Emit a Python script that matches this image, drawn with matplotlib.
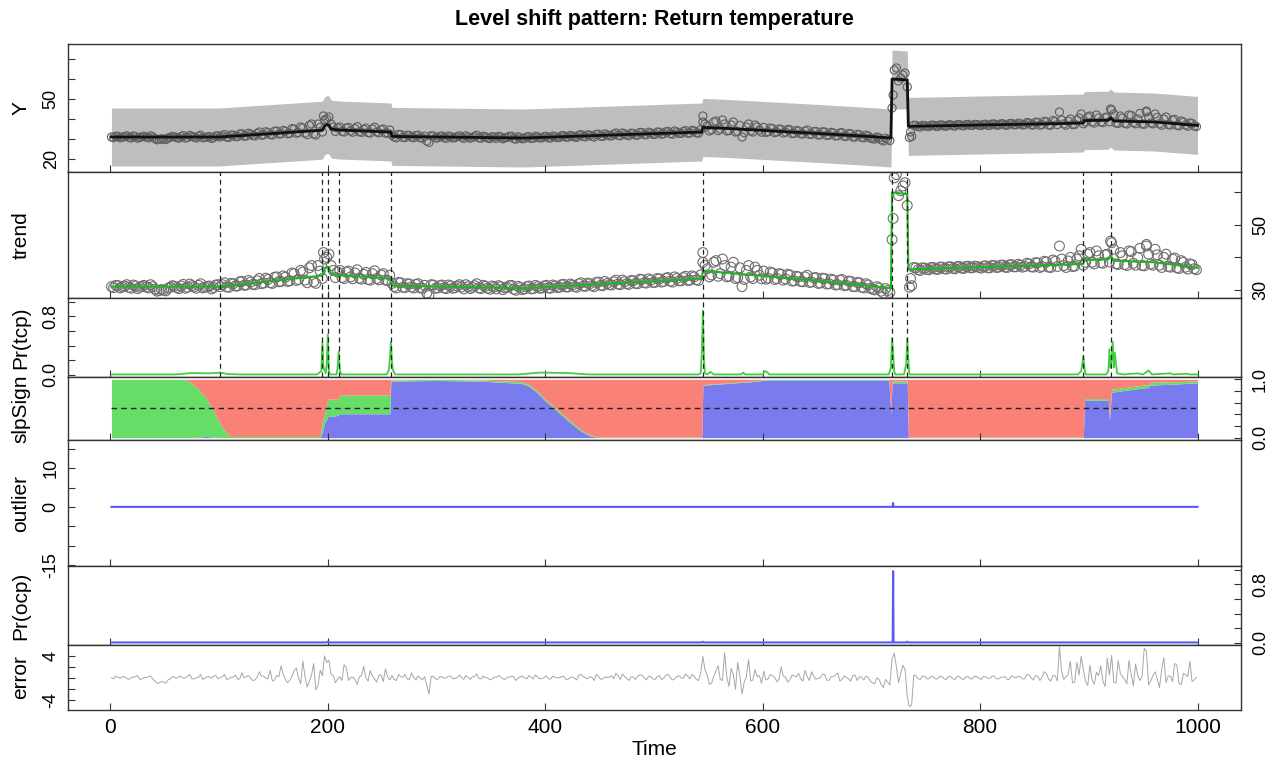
import numpy as np
import matplotlib
matplotlib.use("Agg")
import matplotlib.pyplot as plt

plt.rcParams['font.family'] = ['Liberation Sans', 'DejaVu Sans']

# ---------------- data ----------------
title = "Level shift pattern: Return temperature"
x_ticks = [0, 200, 400, 600, 800, 1000]

# fitted trend (knots)
trend_t = [1, 100, 195, 197, 199, 201, 203, 210, 258, 259, 380, 544, 545, 570, 650, 700,
           718, 719, 733, 734, 800, 880, 895, 896, 918, 920, 923, 960, 1000]
trend_v = [31.0, 31.0, 34.4, 36.5, 37.2, 37.0, 35.0, 34.5, 33.5, 31.3, 30.5, 33.5, 35.8, 35.2,
           32.8, 31.2, 30.5, 60.0, 59.5, 36.3, 37.0, 37.8, 38.0, 39.2, 39.4, 40.6, 39.0, 38.5, 36.8]
band_hi = [45.5, 45.5, 48.9, 51.0, 51.7, 51.5, 49.5, 49.0, 48.0, 45.8, 45.0, 48.0, 50.3, 49.7,
           47.3, 45.7, 45.0, 74.5, 74.0, 50.8, 51.5, 52.3, 52.5, 53.7, 53.9, 55.1, 53.5, 53.0, 51.3]
band_lo = [16.5, 16.5, 19.9, 22.0, 22.7, 22.5, 20.5, 20.0, 19.0, 16.8, 16.0, 19.0, 21.3, 20.7,
           18.3, 16.7, 16.0, 45.0, 45.0, 21.8, 22.5, 23.3, 23.5, 24.7, 24.9, 26.1, 24.5, 24.0, 22.3]

# observations at t = 1, 5, 9, ..., 997
obs_t = np.arange(1, 1001, 4)
obs_y = [
    31.0, 31.4, 30.6, 31.2, 30.8, 31.5, 30.4, 31.1, 30.9, 31.6, 30.2, 29.8, 29.9, 30.5, 31.3,
    30.7, 31.2, 30.5, 31.8, 30.9, 31.4, 30.6, 31.0, 30.3, 31.5,
    31.0, 32.2, 30.8, 31.9, 31.2, 32.6, 31.5, 32.4, 31.6, 33.5, 32.1, 33.2, 32.0, 34.0, 32.6,
    33.9, 32.8, 35.0, 33.2, 35.5, 32.2, 37.5, 32.0, 35.8, 39.5,
    41.0, 36.0, 35.5, 33.8, 35.5, 34.0, 35.2, 33.6, 34.8, 33.2, 35.0, 33.5, 34.6, 33.0, 34.5,
    31.0, 32.3, 30.8, 31.9, 30.9, 31.7, 30.6, 31.4, 28.3, 31.5,
    30.6, 31.5, 30.4, 31.2, 30.7, 31.6, 30.3, 31.0, 30.8, 31.9, 30.4, 31.1, 30.2, 30.9, 31.3,
    30.1, 30.8, 31.4, 29.9, 30.7, 30.3, 31.2, 30.4, 31.0, 30.6,
    31.4, 30.5, 31.2, 30.8, 31.7, 30.9, 31.5, 30.8, 32.2, 31.1, 31.9, 31.0, 32.4, 31.3, 32.0,
    31.5, 33.0, 31.6, 32.5, 31.7, 32.8, 31.9, 33.2, 32.1, 33.0,
    32.3, 33.4, 32.6, 33.8, 32.4, 33.5, 32.8, 34.2, 33.0, 34.0, 32.9, 38.5, 36.5, 34.6, 39.0,
    35.0, 37.5, 34.2, 38.5, 33.8, 31.0, 36.0, 34.0, 37.0, 34.5,
    35.8, 33.6, 35.2, 33.5, 34.8, 33.4, 34.6, 32.8, 34.0, 32.5, 34.5, 32.4, 33.8, 32.1, 33.5,
    31.9, 33.0, 31.6, 33.2, 31.4, 32.6, 31.0, 32.2, 30.6, 31.5,
    30.2, 31.0, 29.6, 30.4, 29.2, 64.5, 59.0, 62.0, 56.0, 31.3, 36.8, 36.0, 36.7, 36.2, 36.9,
    36.3, 37.0, 36.4, 37.1, 36.5, 37.2, 36.6, 37.3, 36.8, 37.2,
    36.7, 37.4, 36.8, 37.5, 37.0, 37.6, 36.9, 37.8, 37.1, 37.6, 37.2, 38.0, 37.0, 38.3, 37.2,
    38.6, 36.9, 38.8, 43.5, 37.5, 38.9, 37.2, 39.5, 42.5, 38.5,
    41.5, 38.0, 40.5, 38.2, 41.0, 44.5, 38.0, 41.5, 37.8, 42.0, 38.2, 40.0, 37.5, 43.5, 38.0,
    42.5, 37.6, 40.0, 37.2, 39.5, 36.8, 39.0, 37.0, 38.0, 36.5,
]
# observations at t = 3, 7, 11, ..., 999
obs_t2 = np.arange(3, 1001, 4)
obs_y2 = [
    30.7, 31.3, 30.9, 31.6, 30.5, 31.2, 30.8, 31.4, 30.6, 31.0, 29.6, 30.1, 29.7, 30.8, 31.1,
    30.4, 31.7, 30.8, 31.3, 30.5, 31.9, 30.8, 31.2, 30.7, 31.6,
    31.6, 30.9, 32.0, 31.2, 32.5, 31.4, 32.9, 31.7, 32.8, 31.9, 33.6, 32.2, 33.9, 32.5, 34.3,
    32.6, 35.2, 32.9, 36.0, 33.0, 36.8, 32.5, 37.5, 33.5, 40.0,
    37.5, 33.8, 36.0, 33.5, 35.8, 33.4, 36.2, 33.3, 35.4, 33.0, 35.9, 33.1, 35.0, 32.9, 32.0,
    30.6, 32.2, 30.7, 31.8, 30.6, 31.9, 30.5, 29.0, 31.6, 30.5,
    31.3, 30.6, 31.5, 30.5, 31.2, 30.9, 31.6, 30.4, 31.3, 30.6, 31.4, 30.5, 31.2, 30.3, 31.0,
    30.6, 31.3, 30.2, 31.1, 30.1, 31.0, 30.3, 31.4, 30.5, 31.2,
    30.6, 31.5, 30.7, 31.6, 30.9, 31.8, 31.0, 31.9, 31.2, 32.1, 31.3, 32.3, 31.4, 32.6, 31.6,
    32.5, 31.8, 33.0, 31.9, 32.9, 32.0, 33.3, 32.2, 33.4, 32.3,
    33.5, 32.4, 33.6, 32.7, 34.0, 32.8, 33.8, 32.9, 34.3, 33.1, 34.6, 37.5, 34.0, 38.5, 34.2,
    39.5, 34.0, 37.0, 33.5, 36.8, 33.2, 37.5, 33.5, 36.0, 33.4,
    33.3, 35.5, 33.2, 35.0, 33.0, 34.8, 32.7, 34.2, 32.6, 34.0, 32.3, 33.7, 32.0, 33.6, 31.8,
    33.3, 31.5, 33.0, 31.3, 32.7, 31.0, 32.3, 30.8, 31.9, 30.5,
    30.0, 30.6, 29.0, 29.8, 45.5, 65.5, 60.5, 63.0, 30.8, 36.9, 36.2, 36.8, 36.3, 36.9, 36.4,
    37.0, 36.5, 37.1, 36.6, 37.2, 36.7, 37.2, 36.8, 37.3, 36.9,
    37.3, 36.8, 37.5, 36.9, 37.6, 37.0, 37.7, 37.1, 37.9, 37.0, 38.2, 37.1, 38.4, 36.9, 38.8,
    37.0, 39.2, 37.2, 39.5, 36.9, 40.0, 37.3, 40.5, 37.6, 41.0,
    38.5, 42.0, 38.4, 40.8, 38.6, 42.5, 37.8, 40.5, 37.5, 41.8, 37.6, 42.8, 37.4, 41.0, 37.6,
    40.8, 36.9, 41.0, 37.0, 39.8, 36.6, 38.5, 36.4, 37.8, 36.2,
]
extra_t = [196, 545, 720, 736, 920, 953]
extra_y = [41.5, 41.5, 52.0, 33.5, 45.0, 44.0]

# model residuals at obs_t and obs_t2
error_v = [
    0.0, 0.3, -0.1, 0.2, -0.3, 0.1, 0.4, -0.2, 0.0, 0.3, -0.6, -0.9, -0.8, -0.4, 0.2,
    -0.1, 0.3, 0.0, 0.6, -0.2, 0.1, -0.3, 0.2, -0.1, 0.4,
    0.0, 0.6, -0.2, 0.1, -0.3, 0.9, 0.2, -0.1, -0.4, 1.1, 0.3, -0.2, -0.6, 0.4, 2.2,
    -0.3, -0.5, 1.3, 0.0, 3.1, -1.7, 0.5, -2.2, 1.4, 4.0,
    3.2, 0.4, -0.2, -0.5, 1.9, 0.1, -0.3, 0.2, 2.1, -0.6, 0.3, -0.8, 0.5, 1.6, -0.4,
    -0.3, 0.6, 0.1, -0.2, 0.9, -0.4, 0.0, 0.2, -3.0, 0.3,
    -0.3, 0.2, 0.0, 0.3, -0.1, 0.5, -0.3, 0.1, 0.2, 0.7, -0.2, 0.0, -0.4, 0.1, 0.4,
    -0.2, 0.1, 0.3, -0.5, 0.2, 0.0, 0.4, -0.2, 0.1, -0.1,
    0.4, -0.2, 0.1, 0.0, 0.3, -0.3, 0.1, -0.4, 0.6, 0.0, 0.2, -0.5, 0.3, -0.2, 0.0,
    0.4, 0.8, -0.3, 0.2, -0.5, 0.1, 0.3, 0.5, -0.4, 0.2,
    -0.3, 0.4, -0.1, 0.6, -0.4, 0.2, 0.0, 0.7, -0.2, 0.3, -0.5, 3.9, 0.4, -1.0, 1.2,
    -0.3, 4.6, -1.6, 0.6, 2.8, -3.0, 0.2, -0.6, 1.5, 0.4,
    1.2, -0.2, 0.4, -0.7, 2.0, 0.1, -0.4, 0.3, 0.8, -0.6, 0.2, 1.1, -0.3, 0.0, 0.6,
    -0.5, 0.2, 0.9, -0.3, 0.1, -0.6, 0.5, 0.2, -0.4, 0.1,
    -0.9, 0.0, -1.2, -0.3, -1.3, 4.5, -0.9, 2.3, -3.5, -5.0, 0.4, -0.3, 0.3, -0.2, 0.2,
    -0.2, 0.2, -0.3, 0.2, -0.3, 0.2, -0.3, 0.2, -0.2, 0.2,
    -0.3, 0.2, -0.1, 0.3, -0.2, 0.1, -0.3, 0.4, 0.0, 0.2, -0.2, 0.5, -0.4, 0.3, 0.1,
    0.8, -0.6, 0.4, 5.7, -0.3, 0.6, -0.9, 2.8, 3.9, -0.7,
    2.3, -1.2, 0.4, -0.6, 3.6, 4.1, -1.0, 0.8, -0.3, 3.2, -1.5, 0.5, 0.2, 4.9, -0.6,
    1.1, -1.8, 3.7, 0.3, -0.7, 2.4, -1.3, 0.6, 3.0, -0.4,
]
error_v2 = [
    -0.2, 0.1, 0.2, -0.1, 0.0, 0.2, -0.3, 0.1, 0.2, -0.2, -1.0, -0.7, -1.0, -0.2, 0.1,
    0.2, -0.1, 0.3, -0.2, 0.0, 0.6, -0.1, 0.2, 0.3, -0.2,
    0.2, -0.3, 0.1, 0.5, -0.2, 0.0, 0.4, -0.5, 0.1, 0.3, -0.1, 1.4, -0.4, 0.2, 0.6,
    -0.9, 0.3, 1.8, -1.1, 0.2, -0.6, 2.6, -1.5, 0.4, 2.8,
    0.6, -0.9, 0.2, 2.4, -0.5, 0.1, -1.2, 0.4, 0.0, 1.3, -0.2, 0.5, -0.7, 0.2, 0.4,
    -0.5, 0.2, 0.6, -0.3, 0.1, 0.3, -0.4, -1.4, 0.2, -0.2,
    0.2, -0.1, 0.3, -0.2, 0.0, 0.1, 0.4, -0.3, 0.2, -0.1, 0.3, 0.0, -0.2, 0.1, 0.2,
    -0.3, 0.1, 0.2, -0.1, 0.3, -0.2, 0.1, 0.5, -0.2, 0.0,
    -0.2, 0.3, 0.0, 0.2, -0.3, 0.1, -0.1, 0.5, 0.2, -0.2, 0.0, 0.6, -0.3, 0.2, 0.1,
    -0.2, 0.4, 0.7, -0.1, 0.2, -0.3, 0.5, 0.0, 0.3, -0.2,
    0.2, -0.3, 0.5, 0.1, -0.2, 0.4, -0.1, 0.3, 0.6, -0.3, 0.9, 1.4, -1.2, 0.3, 2.2,
    -0.5, 0.1, 1.7, -2.1, 0.4, -0.8, 3.3, -0.4, 0.2, -1.0,
    -0.4, 0.6, 0.1, -0.3, 0.3, -0.8, 0.5, 0.2, -0.2, 1.4, -0.5, 0.3, -0.1, 0.7, -0.4,
    0.2, 0.5, -0.6, 0.3, -0.2, 0.4, -0.5, 0.1, 0.3, -0.6,
    -1.1, -0.3, -1.8, -0.8, 3.5, 2.0, 0.8, 1.5, -5.3, 0.5, -0.2, 0.3, -0.2, 0.3, -0.2,
    0.3, -0.2, 0.3, -0.2, 0.3, -0.2, 0.2, -0.2, 0.3, -0.1,
    0.2, -0.1, 0.3, -0.2, 0.1, 0.2, -0.3, 0.1, 0.3, -0.2, 0.6, 0.0, 0.4, -0.5, 1.1,
    -0.2, 0.4, -0.6, 1.2, 0.2, 3.0, -0.8, 0.5, 1.6, -1.4,
    -0.4, 1.0, 2.2, -1.6, 0.5, -0.8, 3.1, 0.2, -1.1, 0.6, 2.5, -0.5, 5.4, -1.3, 0.4,
    -0.2, 1.5, -0.9, 0.3, 2.6, -1.0, 0.8, 0.2, -0.7, 0.1,
]

# trend changepoint locations and probability
cp_t = [101, 195, 200, 210, 258, 545, 719, 733, 895, 920]
tcp_t = [1, 60, 75, 90, 101, 108, 120, 190, 194, 195, 196, 198, 199, 200, 201, 202, 208, 209,
         210, 211, 212, 254, 256, 257, 258, 259, 260, 262, 375, 395, 420, 440, 541, 543, 544,
         545, 546, 547, 549, 552, 555, 580, 582, 584, 600, 602, 604, 606, 716, 718, 719, 720,
         721, 722, 730, 732, 733, 734, 735, 890, 893, 894, 895, 896, 897, 916, 918, 919, 920,
         921, 922, 923, 924, 926, 930, 932, 945, 950, 955, 958, 975, 978, 990, 993, 1000]
tcp_p = [0.005, 0.005, 0.025, 0.02, 0.03, 0.01, 0.005, 0.005, 0.05, 0.45, 0.1, 0.02, 0.15,
         0.55, 0.05, 0.005, 0.005, 0.1, 0.32, 0.08, 0.005, 0.005, 0.06, 0.2, 0.45, 0.18, 0.06,
         0.005, 0.005, 0.03, 0.025, 0.005, 0.005, 0.02, 0.3, 0.88, 0.2, 0.02, 0.005, 0.04,
         0.005, 0.005, 0.03, 0.005, 0.005, 0.05, 0.04, 0.005, 0.005, 0.1, 0.5, 0.3, 0.05, 0.005,
         0.005, 0.15, 0.5, 0.2, 0.005, 0.005, 0.05, 0.15, 0.25, 0.1, 0.005, 0.005, 0.05, 0.35,
         0.1, 0.2, 0.45, 0.1, 0.3, 0.02, 0.01, 0.005, 0.02, 0.005, 0.06, 0.005, 0.02, 0.005,
         0.015, 0.005, 0.005]

# slope-sign probabilities (positive / zero; negative fills the rest)
slp_t = [1, 68, 72, 80, 88, 95, 103, 110, 193, 195, 197, 200, 209, 211, 257, 258, 300, 340,
         378, 385, 392, 400, 408, 416, 424, 432, 440, 448, 544, 545, 568, 590, 605, 716, 718,
         719, 733, 734, 895, 896, 918, 919, 920, 921, 945, 955, 956, 980, 1000]
slp_pos = [0.0, 0.0, 0.0, 0.01, 0.02, 0.01, 0.0, 0.0, 0.0, 0.1, 0.25, 0.36, 0.38, 0.41, 0.41,
           0.97, 0.98, 0.97, 0.93, 0.88, 0.78, 0.63, 0.5, 0.37, 0.24, 0.12, 0.04, 0.0, 0.0,
           0.9, 0.93, 0.96, 0.99, 0.99, 0.4, 0.94, 0.94, 0.0, 0.0, 0.64, 0.64, 0.30, 0.55, 0.78,
           0.84, 0.86, 0.9, 0.92, 0.94]
slp_zero = [1.0, 1.0, 0.97, 0.84, 0.66, 0.45, 0.17, 0.02, 0.02, 0.2, 0.15, 0.3, 0.28, 0.32,
            0.32, 0.02, 0.02, 0.02, 0.03, 0.03, 0.03, 0.03, 0.03, 0.03, 0.03, 0.03, 0.02, 0.01,
            0.01, 0.01, 0.01, 0.01, 0.01, 0.01, 0.0, 0.03, 0.03, 0.01, 0.01, 0.03, 0.03, 0.02,
            0.03, 0.05, 0.05, 0.05, 0.05, 0.04, 0.03]

# outliers
outlier_t = [1, 719.6, 720, 720.4, 1000]
outlier_v = [0.0, 0.0, 1.0, 0.0, 0.0]
ocp_t = [1, 199, 200, 201, 544, 545, 546, 719.6, 720, 720.4, 732, 733, 734, 1000]
ocp_p = [0.005, 0.005, 0.015, 0.005, 0.005, 0.015, 0.005, 0.005, 0.98, 0.005, 0.005, 0.015,
         0.005, 0.005]

# ---------------- layout ----------------
W, H = 1279, 765
fig = plt.figure(figsize=(W / 100, H / 100), dpi=100)
L, R = 68, 1241
XLIM = (-39, 1040)

def panel(top, bottom):
    ax = fig.add_axes([L / W, 1 - bottom / H, (R - L) / W, (bottom - top) / H])
    ax.set_xlim(*XLIM)
    ax.set_xticks(x_ticks)
    ax.tick_params(direction='in', length=5, width=0.8, colors='#333333', labelcolor='black')
    ax.tick_params(axis='x', labelbottom=False, top=False)
    for s in ax.spines.values():
        s.set_color('#333333')
        s.set_linewidth(1.0)
    return ax

def yaxis(ax, ticks, labels, side, size=13):
    ax.set_yticks(ticks)
    ax.set_yticklabels(labels)
    if side == 'right':
        ax.yaxis.tick_right()
        ax.tick_params(axis='y', left=False, right=True, labelleft=False, labelright=True, pad=8)
    else:
        ax.tick_params(axis='y', pad=6)
    for lab in ax.get_yticklabels():
        lab.set_rotation(90)
        lab.set_va('center')
        lab.set_fontsize(size)

def ylab(text, top, bottom):
    fig.text(21 / W, 1 - (top + bottom) / 2 / H, text, rotation=90, ha='center', va='center',
             fontsize=15)

GREEN = '#1fb31f'
GREEN2 = '#3fcf3f'
BLUE = '#5a5af0'

all_t = np.concatenate([obs_t, obs_t2])
order = np.argsort(all_t)
all_err = np.concatenate([error_v, error_v2])

# Title
fig.text((L + R) / 2 / W, 1 - 19 / H, title, ha='center', va='center', fontsize=15.5,
         fontweight='bold')

# Panel 1: Y
ax1 = panel(44, 172)
ax1.set_ylim(13.5, 77.5)
ax1.fill_between(trend_t, band_lo, band_hi, color='#bebebe', lw=0, zorder=1)
for tt, yy in ((obs_t, obs_y), (obs_t2, obs_y2), (extra_t, extra_y)):
    ax1.scatter(tt, yy, s=34, facecolors='none', edgecolors='#5e5e5e', linewidths=0.8, zorder=2)
ax1.plot(trend_t, trend_v, color='#111111', lw=2.0, zorder=3)
yaxis(ax1, [20, 30, 40, 50, 60, 70], ['20', '', '', '50', '', ''], 'left')
ylab('Y', 44, 172)

# Panel 2: trend
ax2 = panel(172, 298)
ax2.set_ylim(27.5, 66.3)
for tt, yy in ((obs_t, obs_y), (obs_t2, obs_y2), (extra_t, extra_y)):
    ax2.scatter(tt, yy, s=50, facecolors='none', edgecolors='#6e6e6e', linewidths=0.8, zorder=2)
ax2.plot(trend_t, trend_v, color=GREEN, lw=1.5, zorder=3)
for c in cp_t:
    ax2.axvline(c, color='#222222', lw=0.9, ls=(0, (4, 3)), zorder=4)
yaxis(ax2, [30, 40, 50, 60], ['30', '', '50', ''], 'right')
ylab('trend', 172, 298)

# Panel 3: Pr(tcp)
ax3 = panel(298, 377)
ax3.set_ylim(-0.03, 1.05)
ax3.plot(tcp_t, tcp_p, color=GREEN2, lw=1.3, zorder=3)
for c in cp_t:
    ax3.axvline(c, color='#222222', lw=0.9, ls=(0, (4, 3)), zorder=4)
yaxis(ax3, [0, 0.2, 0.4, 0.6, 0.8, 1.0], ['0.0', '', '', '', '0.8', ''], 'left')
ylab('Pr(tcp)', 298, 377)

# Panel 4: slpSign
ax4 = panel(377, 440)
ax4.set_ylim(-0.04, 1.04)
pos = np.array(slp_pos)
zer = np.array(slp_zero)
ax4.fill_between(slp_t, 0, pos, color='#7b7bf0', lw=0)
ax4.fill_between(slp_t, pos, pos + zer, color='#66dd66', lw=0)
ax4.fill_between(slp_t, pos + zer, 1, color='#fa8178', lw=0)
ax4.plot([1, 1000], [0.5, 0.5], color='#222222', lw=1.0, ls=(0, (4, 3)))
yaxis(ax4, [0, 0.2, 0.4, 0.6, 0.8, 1.0], ['0.0', '', '', '', '', '1.0'], 'right')
ylab('slpSign', 377, 440)

# Panel 5: outlier
ax5 = panel(440, 566)
ax5.set_ylim(-15.3, 17.3)
ax5.plot(outlier_t, outlier_v, color=BLUE, lw=1.5)
yaxis(ax5, [-15, -10, -5, 0, 5, 10, 15], ['-15', '', '', '0', '', '10', ''], 'left')
ylab('outlier', 440, 566)

# Panel 6: Pr(ocp)
ax6 = panel(566, 645)
ax6.set_ylim(-0.03, 1.05)
ax6.plot(ocp_t, ocp_p, color=BLUE, lw=1.5)
yaxis(ax6, [0, 0.2, 0.4, 0.6, 0.8, 1.0], ['0.0', '', '', '', '0.8', ''], 'right')
ylab('Pr(ocp)', 566, 645)

# Panel 7: error
ax7 = panel(645, 710)
ax7.set_ylim(-5.9, 6.0)
ax7.plot(all_t[order], all_err[order], color='#a6a6a6', lw=0.7)
yaxis(ax7, [-4, -2, 0, 2, 4], ['-4', '', '', '', '4'], 'left')
ylab('error', 645, 710)
ax7.tick_params(axis='x', labelbottom=True, labelsize=15, pad=6)
ax7.set_xlabel('Time', fontsize=15, labelpad=2)

fig.savefig('out.png', dpi=100)
